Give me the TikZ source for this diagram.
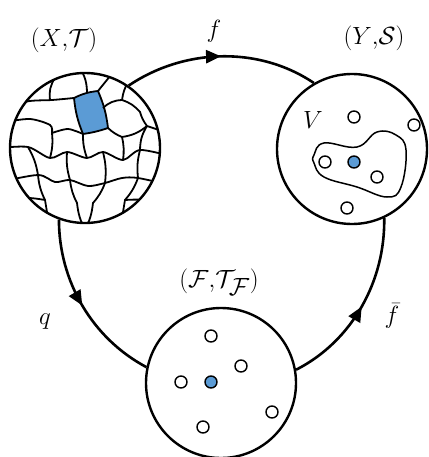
\documentclass[tikz,border=0pt]{standalone}
\usepackage{amsmath,amssymb}
\usetikzlibrary{arrows.meta,decorations.markings}
\definecolor{cellblue}{RGB}{91,155,213}

\begin{document}
\begin{tikzpicture}[
  x=1pt, y=-1pt,
  space/.style={draw, circle, line width=2.4pt, minimum size=150pt, inner sep=0pt},
  lab/.style={font=\fontsize{34}{38}\selectfont, inner sep=0pt},
  arr/.style={line width=2.6pt, looseness=0.92, postaction={decorate},
    decoration={markings, mark=at position 0.5 with {\arrow{Triangle[length=15pt,width=13pt]}}}},
  pt/.style={draw, circle, line width=1.4pt, minimum size=12pt, inner sep=0pt, fill=white},
  ptb/.style={pt, fill=cellblue},
  cell/.style={line width=1.8pt}]
\useasboundingbox (0,0) rectangle (428,457);
\node[space] (X) at (85,148) {};
\node[space] (Y) at (352,149) {};
\node[space] (F) at (221,383) {};
\node[lab] (Xl) at (64,40) {$(X{,}\mathcal{T})$};
\node[lab] (Yl) at (374,38) {$(Y{,}\mathcal{S})$};
\node[lab] (Fl) at (219,282) {$(\mathcal{F}{,}\mathcal{T}_{\mathcal{F}})$};
% cells of X
\begin{scope}
\clip (X.center) circle[radius=75pt];
\filldraw[cell, fill=cellblue] (74,98) to[bend left=10] (98,91) to[bend left=8] (108,128) to[bend left=5] (83,134) to[bend left=8] cycle;
\draw[cell] (87,93) to[bend right=15] (80,68);
\draw[cell] (98,91) -- (115,70);
\draw[cell] plot[smooth] coordinates {(5,106) (30,101) (52,100) (74,98)};
\draw[cell] (50,100) to[bend left=20] (55,78);
\draw[cell] (103,108) to[bend left=20] (122,100) to[bend left=10] (128,82);
\draw[cell] (122,100) to[bend left=15] (140,112) to[bend right=10] (147,126) -- (165,132);
\draw[cell] (108,128) to[bend right=10] (122,137) to[bend right=15] (147,126);
\draw[cell] plot[smooth] coordinates {(5,122) (30,119) (50,125) (52,133)};
\draw[cell] plot[smooth] coordinates {(52,133) (68,129) (83,134)};
\draw[cell] (52,133) to[bend left=10] (50,158);
\draw[cell] (83,134) to[bend right=10] (87,158);
\draw[cell] (122,137) to[bend left=10] (123,160);
\draw[cell] plot[smooth] coordinates {(0,148) (28,147) (50,158) (67,152) (87,158) (103,152) (123,160) (140,150) (170,156)};
\draw[cell] (28,147) to[bend left=10] (38,175);
\draw[cell] (67,152) to[bend right=10] (70,180);
\draw[cell] (103,152) to[bend left=10] (105,183);
\draw[cell] (140,150) to[bend right=10] (138,178);
\draw[cell] (140,150) to[bend left=15] (147,126);
\draw[cell] plot[smooth] coordinates {(0,182) (38,175) (55,182) (70,180) (88,186) (105,183) (122,178) (138,178) (170,185)};
\draw[cell] (38,175) to[bend right=10] (45,200) -- (50,230);
\draw[cell] (0,200) to[bend left=10] (45,200);
\draw[cell] (70,180) to[bend right=10] (77,203) to[bend right=10] (85,230);
\draw[cell] (105,183) to[bend left=10] (93,203) to[bend left=10] (85,230);
\draw[cell] (138,178) to[bend left=10] (125,200) -- (120,230);
\draw[cell] (125,200) to[bend left=10] (170,205);
\end{scope}
% the set V in Y
\draw[line width=1.5pt] plot[smooth cycle, tension=0.7] coordinates {(314,155) (324,143) (357,147) (377,132) (396,135) (406,150) (401,187) (387,197) (357,187) (324,177) (314,163)};
\node[lab] (Vl) at (313,120) {$V$};
\foreach \p [count=\i] in {(354,117),(414,125),(325,162),(377,177),(347,208)}
  \node[pt] (y\i) at \p {};
\node[ptb] (y0) at (354,162) {};
\foreach \p [count=\i] in {(211,336),(241,366),(181,382),(272,412),(203,427)}
  \node[pt] (f\i) at \p {};
\node[ptb] (f0) at (211,382) {};
% maps
\draw[arr] (X.55) to[out=34, in=146] (Y.120);
\draw[arr] (X.250) to[out=-90, in=152] (F.168);
\draw[arr] (F.10) to[out=27, in=-89] (Y.295);
\node[lab] (fl) at (214,31) {$f$};
\node[lab] (ql) at (45,322) {$q$};
\node[lab] (fbl) at (392,316) {$\bar{f}$};
\end{tikzpicture}
\end{document}
